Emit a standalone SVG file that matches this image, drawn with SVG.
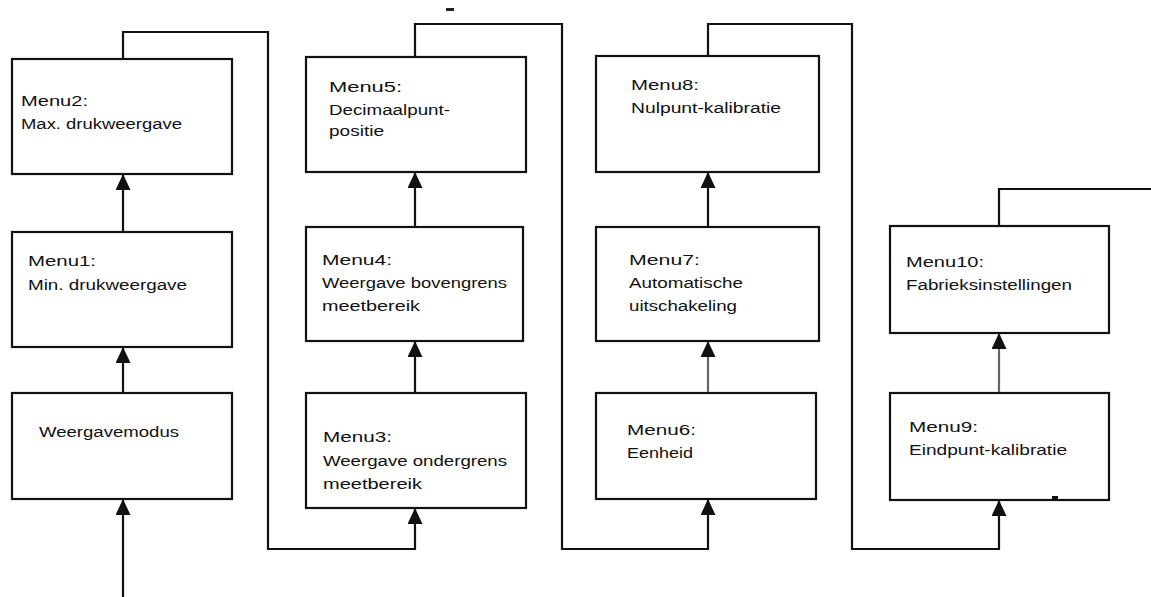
<svg xmlns="http://www.w3.org/2000/svg" width="1151" height="597" viewBox="0 0 1151 597">
<style>
.box{fill:#fff;stroke:#111;stroke-width:2.2}
.t{font-family:"Liberation Sans",Arial,sans-serif;font-size:14px;fill:#111}
.c{fill:none;stroke:#111;stroke-width:2.2}
.g{fill:none;stroke:#666;stroke-width:2.2}
</style>
<defs>
<marker id="ah" markerUnits="userSpaceOnUse" markerWidth="16" markerHeight="15" viewBox="0 0 16 15" refX="15" refY="7.5" orient="auto">
<path d="M0,0 L16,7.5 L0,15 Z" fill="#111"/>
</marker>
</defs>
<rect x="0" y="0" width="1151" height="597" fill="#fff"/>
<rect x="446" y="8" width="8" height="3" fill="#222"/>

<g id="nodes-bg">
<g id="weergavemodus">
<rect class="box" x="12" y="393" width="220" height="106"/>
<text class="t" x="39" y="437" textLength="140" lengthAdjust="spacingAndGlyphs">Weergavemodus</text>
</g>
<g id="menu1">
<rect class="box" x="12" y="232" width="220" height="115"/>
<text class="t" x="28" y="266" textLength="68" lengthAdjust="spacingAndGlyphs">Menu1:</text>
<text class="t" x="28" y="290" textLength="159" lengthAdjust="spacingAndGlyphs">Min. drukweergave</text>
</g>
<g id="menu2">
<rect class="box" x="12" y="59" width="220" height="115"/>
<text class="t" x="21" y="106" textLength="67" lengthAdjust="spacingAndGlyphs">Menu2:</text>
<text class="t" x="21" y="129" textLength="161" lengthAdjust="spacingAndGlyphs">Max. drukweergave</text>
</g>

<g id="menu3">
<rect class="box" x="306" y="393" width="220" height="115"/>
<text class="t" x="323" y="442" textLength="69" lengthAdjust="spacingAndGlyphs">Menu3:</text>
<text class="t" x="323" y="466" textLength="184" lengthAdjust="spacingAndGlyphs">Weergave ondergrens</text>
<text class="t" x="323" y="489" textLength="99" lengthAdjust="spacingAndGlyphs">meetbereik</text>
</g>
<g id="menu4">
<rect class="box" x="306" y="227" width="217" height="114"/>
<text class="t" x="322" y="265" textLength="70" lengthAdjust="spacingAndGlyphs">Menu4:</text>
<text class="t" x="322" y="288" textLength="185" lengthAdjust="spacingAndGlyphs">Weergave bovengrens</text>
<text class="t" x="322" y="311" textLength="98" lengthAdjust="spacingAndGlyphs">meetbereik</text>
</g>
<g id="menu5">
<rect class="box" x="306" y="57" width="220" height="115"/>
<text class="t" x="329" y="92" textLength="73" lengthAdjust="spacingAndGlyphs">Menu5:</text>
<text class="t" x="329" y="115" textLength="121" lengthAdjust="spacingAndGlyphs">Decimaalpunt-</text>
<text class="t" x="329" y="136" textLength="55" lengthAdjust="spacingAndGlyphs">positie</text>
</g>

<g id="menu6">
<rect class="box" x="596" y="393" width="220" height="106"/>
<text class="t" x="627" y="435" textLength="69" lengthAdjust="spacingAndGlyphs">Menu6:</text>
<text class="t" x="627" y="458" textLength="66" lengthAdjust="spacingAndGlyphs">Eenheid</text>
</g>
<g id="menu7">
<rect class="box" x="596" y="227" width="223" height="114"/>
<text class="t" x="629" y="265" textLength="71" lengthAdjust="spacingAndGlyphs">Menu7:</text>
<text class="t" x="629" y="288" textLength="114" lengthAdjust="spacingAndGlyphs">Automatische</text>
<text class="t" x="629" y="311" textLength="108" lengthAdjust="spacingAndGlyphs">uitschakeling</text>
</g>
<g id="menu8">
<rect class="box" x="596" y="56" width="223" height="116"/>
<text class="t" x="631" y="90" textLength="68" lengthAdjust="spacingAndGlyphs">Menu8:</text>
<text class="t" x="631" y="113" textLength="150" lengthAdjust="spacingAndGlyphs">Nulpunt-kalibratie</text>
</g>

<g id="menu9">
<rect class="box" x="890" y="393" width="219" height="107"/>
<text class="t" x="909" y="432" textLength="69" lengthAdjust="spacingAndGlyphs">Menu9:</text>
<text class="t" x="909" y="455" textLength="158" lengthAdjust="spacingAndGlyphs">Eindpunt-kalibratie</text>
<rect x="1052" y="496" width="6" height="3" fill="#111"/>
</g>
<g id="menu10">
<rect class="box" x="890" y="226" width="219" height="107"/>
<text class="t" x="906" y="267" textLength="78" lengthAdjust="spacingAndGlyphs">Menu10:</text>
<text class="t" x="906" y="290" textLength="166" lengthAdjust="spacingAndGlyphs">Fabrieksinstellingen</text>
</g>
</g>

<g id="connectors">
<path class="c" d="M123,597 V500" marker-end="url(#ah)"/>
<path class="c" d="M123,392 V348" marker-end="url(#ah)"/>
<path class="c" d="M123,231 V175" marker-end="url(#ah)"/>
<path class="c" d="M123,58 V32 H268 V549 H415 V509" marker-end="url(#ah)"/>
<path class="c" d="M415,392 V342" marker-end="url(#ah)"/>
<path class="c" d="M415,226 V173" marker-end="url(#ah)"/>
<path class="c" d="M415,56 V24 H562 V549 H708 V500" marker-end="url(#ah)"/>
<path class="g" d="M708,392 V342" marker-end="url(#ah)"/>
<path class="c" d="M708,226 V173" marker-end="url(#ah)"/>
<path class="c" d="M708,55 V24 H852 V549 H999 V501" marker-end="url(#ah)"/>
<path class="g" d="M999,392 V334" marker-end="url(#ah)"/>
<path class="c" d="M999,225 V189 H1151"/>
</g>
</svg>
